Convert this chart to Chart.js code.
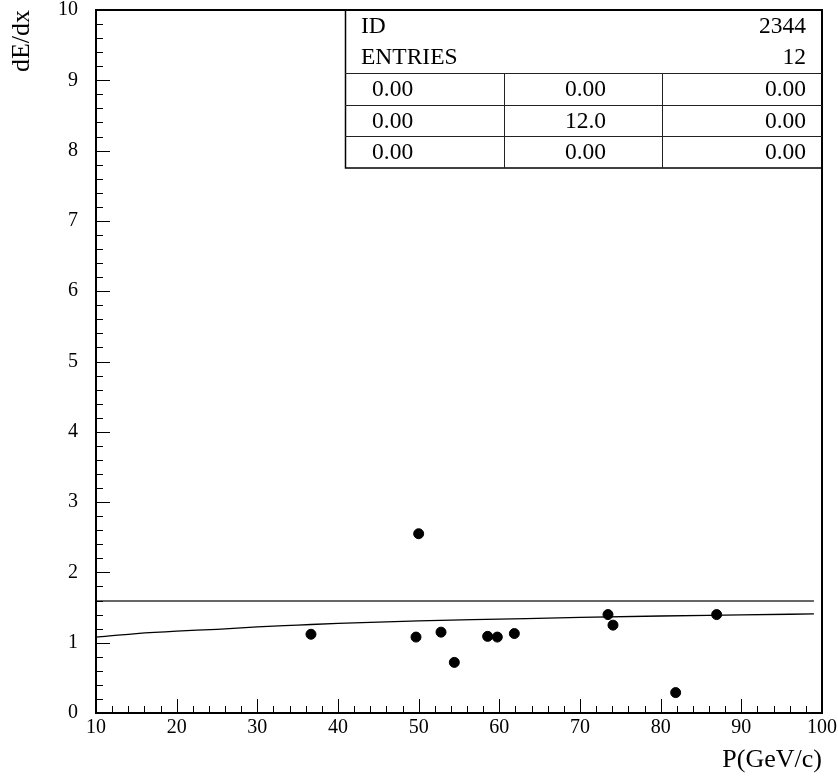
<!DOCTYPE html>
<html>
<head>
<meta charset="utf-8">
<script src="https://cdn.jsdelivr.net/npm/chart.js@4/dist/chart.umd.min.js"></script>
<style>
  html, body { margin: 0; padding: 0; background: #fff; }
  #wrap { width: 838px; height: 780px; }
</style>
</head>
<body>
<div id="wrap"><canvas id="c" width="838" height="780"></canvas></div>
<script>
// ---- data ----
const pointX = [36.65, 50.0, 49.67, 52.77, 54.42, 58.55, 59.75, 61.86, 73.47, 74.09, 81.86, 86.94];
const pointY = [1.12, 2.55, 1.08, 1.15, 0.72, 1.09, 1.08, 1.13, 1.40, 1.25, 0.29, 1.40];
const curveX = [10, 15, 20, 25, 30, 35, 40, 50, 60, 70, 80, 90, 99];
const curveY = [1.08, 1.13, 1.165, 1.19, 1.225, 1.25, 1.275, 1.31, 1.335, 1.36, 1.38, 1.395, 1.41];
const levelX = [10, 99];
const levelY = [1.593, 1.593];
const xTickLabels = [10, 20, 30, 40, 50, 60, 70, 80, 90, 100];
const yTickLabels = [0, 1, 2, 3, 4, 5, 6, 7, 8, 9, 10];
const statsId = "2344";
const statsEntries = "12";
const statsGrid = [
  ["0.00", "0.00", "0.00"],
  ["0.00", "12.0", "0.00"],
  ["0.00", "0.00", "0.00"]
];

const SERIF = '"Liberation Serif", "Times New Roman", serif';

const toPts = (xs, ys) => xs.map((x, i) => ({ x: x, y: ys[i] }));

const frameAndTicks = {
  id: 'frameAndTicks',
  afterDatasetsDraw(chart) {
    const { ctx, chartArea: a, scales: { x, y } } = chart;
    ctx.save();
    ctx.strokeStyle = '#000';
    ctx.lineWidth = 1;
    // y ticks (inward), major every 1, minor every 0.2
    for (let k = 0; k <= 50; k++) {
      const v = k * 0.2;
      const py = Math.round(y.getPixelForValue(v)) + 0.5;
      const len = (k % 5 === 0) ? 14 : 7;
      ctx.beginPath();
      ctx.moveTo(a.left, py);
      ctx.lineTo(a.left + len, py);
      ctx.stroke();
    }
    // x ticks (inward), major every 10, minor every 2
    for (let k = 0; k <= 45; k++) {
      const v = 10 + k * 2;
      const px = Math.round(x.getPixelForValue(v)) + 0.5;
      const len = (k % 5 === 0) ? 14 : 7;
      ctx.beginPath();
      ctx.moveTo(px, a.bottom);
      ctx.lineTo(px, a.bottom - len);
      ctx.stroke();
    }
    // frame
    ctx.lineWidth = 2;
    ctx.strokeRect(a.left, a.top, a.right - a.left, a.bottom - a.top);

    // stats box
    const bx0 = 345, bx1 = a.right, by0 = a.top, by1 = 168;
    const rowTop = 73;
    const rowH = (by1 - rowTop) / 3;
    const c1 = 504.5, c2 = 662.5;
    ctx.fillStyle = '#fff';
    ctx.fillRect(bx0, by0 + 1, bx1 - bx0 - 1, by1 - by0 - 1);
    ctx.lineWidth = 1.5;
    ctx.strokeStyle = '#000';
    ctx.strokeRect(bx0 + 0.5, by0, bx1 - bx0 - 0.5, by1 - by0);
    ctx.lineWidth = 1;
    ctx.strokeStyle = '#222';
    ctx.beginPath();
    for (let r = 0; r < 3; r++) {
      const yy = Math.round(rowTop + r * rowH) + 0.5;
      ctx.moveTo(bx0, yy); ctx.lineTo(bx1, yy);
    }
    ctx.moveTo(c1, rowTop); ctx.lineTo(c1, by1);
    ctx.moveTo(c2, rowTop); ctx.lineTo(c2, by1);
    ctx.stroke();

    ctx.fillStyle = '#000';
    ctx.font = '23.5px ' + SERIF;
    ctx.textBaseline = 'middle';
    ctx.textAlign = 'left';
    ctx.fillText('ID', 361, 27);
    ctx.fillText('ENTRIES', 361, 58);
    ctx.textAlign = 'right';
    ctx.fillText(statsId, 806, 27);
    ctx.fillText(statsEntries, 806, 58);
    for (let r = 0; r < 3; r++) {
      const cy = rowTop + r * rowH + rowH / 2 + 1;
      ctx.textAlign = 'left';
      ctx.fillText(statsGrid[r][0], 372, cy);
      ctx.textAlign = 'center';
      ctx.fillText(statsGrid[r][1], (c1 + c2) / 2 + 2, cy);
      ctx.textAlign = 'right';
      ctx.fillText(statsGrid[r][2], 806, cy);
    }
    ctx.restore();
  }
};

const zeroPad = s => { s.paddingTop = 0; s.paddingBottom = 0; s.paddingLeft = 0; s.paddingRight = 0; };

new Chart(document.getElementById('c'), {
  type: 'scatter',
  data: {
    datasets: [
      {
        label: 'level',
        type: 'line',
        data: toPts(levelX, levelY),
        borderColor: '#333',
        borderWidth: 1.3,
        pointRadius: 0,
        fill: false,
        order: 3
      },
      {
        label: 'fit',
        type: 'line',
        data: toPts(curveX, curveY),
        borderColor: '#000',
        borderWidth: 1.3,
        pointRadius: 0,
        cubicInterpolationMode: 'monotone',
        fill: false,
        order: 2
      },
      {
        label: 'points',
        data: toPts(pointX, pointY),
        backgroundColor: '#000',
        borderColor: '#000',
        pointRadius: 5,
        pointHoverRadius: 5,
        showLine: false,
        order: 1
      }
    ]
  },
  options: {
    responsive: false,
    animation: false,
    devicePixelRatio: 1,
    layout: { padding: { top: 10, right: 16, left: 0, bottom: 0 } },
    plugins: { legend: { display: false }, tooltip: { enabled: false } },
    scales: {
      x: {
        type: 'linear',
        min: 10, max: 100,
        afterFit: s => { s.height = 67; zeroPad(s); },
        afterBuildTicks: s => { s.ticks = xTickLabels.map(v => ({ value: v })); },
        grid: { display: false, drawTicks: false, tickLength: 0 },
        border: { display: false },
        ticks: {
          autoSkip: false, maxRotation: 0, padding: 5,
          color: '#000',
          font: { family: SERIF, size: 20, lineHeight: 1 }
        },
        title: {
          display: true, text: 'P(GeV/c)', align: 'end', color: '#000',
          font: { family: SERIF, size: 26, lineHeight: 1.2 },
          padding: { top: 0, bottom: 4 }
        }
      },
      y: {
        type: 'linear',
        min: 0, max: 10,
        afterFit: s => { s.width = 96; zeroPad(s); },
        afterBuildTicks: s => { s.ticks = yTickLabels.map(v => ({ value: v })); },
        grid: { display: false, drawTicks: false, tickLength: 0 },
        border: { display: false },
        ticks: {
          autoSkip: false, padding: 18,
          color: '#000',
          font: { family: SERIF, size: 20, lineHeight: 1 }
        },
        title: {
          display: true, text: 'dE/dx', align: 'end', color: '#000',
          font: { family: SERIF, size: 26, lineHeight: 1.2 },
          padding: { top: 7, bottom: 0 }
        }
      }
    }
  },
  plugins: [frameAndTicks]
});
</script>
</body>
</html>
